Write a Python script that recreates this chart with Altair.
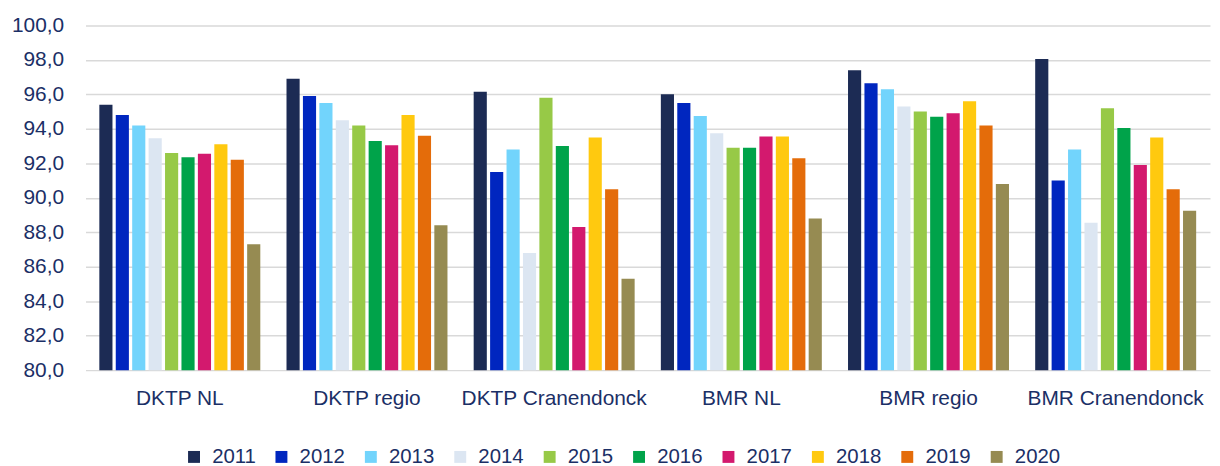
import altair as alt
import pandas as pd

categories = ["DKTP NL", "DKTP regio", "DKTP Cranendonck", "BMR NL", "BMR regio", "BMR Cranendonck"]
years = ["2011", "2012", "2013", "2014", "2015", "2016", "2017", "2018", "2019", "2020"]

v2011 = [95.4, 96.9, 96.15, 96.0, 97.4, 98.05]
v2012 = [94.8, 95.9, 91.5, 95.5, 96.65, 91.0]
v2013 = [94.2, 95.5, 92.8, 94.75, 96.3, 92.8]
v2014 = [93.45, 94.5, 86.8, 93.75, 95.3, 88.55]
v2015 = [92.6, 94.2, 95.8, 92.9, 95.0, 95.2]
v2016 = [92.35, 93.3, 93.0, 92.9, 94.7, 94.05]
v2017 = [92.55, 93.05, 88.3, 93.55, 94.9, 91.9]
v2018 = [93.1, 94.8, 93.5, 93.55, 95.6, 93.5]
v2019 = [92.2, 93.6, 90.5, 92.3, 94.2, 90.5]
v2020 = [87.3, 88.4, 85.3, 88.8, 90.8, 89.25]

colors = ["#1C2B54", "#0026BF", "#72D4FC", "#DCE6F2", "#97C947",
          "#00A34A", "#D3196E", "#FFC90F", "#E46C0A", "#968B52"]

series = [v2011, v2012, v2013, v2014, v2015, v2016, v2017, v2018, v2019, v2020]
rows = []
for y, vals in zip(years, series):
    for c, v in zip(categories, vals):
        rows.append({"cat": c, "year": y, "value": v})
df = pd.DataFrame(rows)

FONT = "Liberation Sans"
TXT = "#1B2F66"

chart = alt.Chart(df).mark_bar(clip=True).encode(
    x=alt.X("cat:N", sort=categories, title=None,
            scale=alt.Scale(paddingInner=0.14, paddingOuter=0.074),
            axis=alt.Axis(labelAngle=0, labelFontSize=21, labelFont=FONT, labelColor=TXT,
                          labelPadding=18, labelLimit=400, ticks=False, domain=False, grid=False)),
    xOffset=alt.XOffset("year:N", sort=years, scale=alt.Scale(paddingInner=0.2, paddingOuter=0)),
    y=alt.Y("value:Q", title=None,
            scale=alt.Scale(domain=[80, 100], nice=False, zero=False),
            axis=alt.Axis(values=list(range(80, 101, 2)),
                          labelExpr="replace(format(datum.value, '.1f'), '.', ',')",
                          labelFontSize=21, labelFont=FONT, labelColor=TXT, labelPadding=22,
                          ticks=False, domain=False, grid=True, gridColor="#D9D9D9", gridWidth=1.5)),
    color=alt.Color("year:N", sort=years, title=None,
                    scale=alt.Scale(domain=years, range=colors),
                    legend=alt.Legend(orient="none", direction="horizontal", columns=10,
                                      legendX=99, legendY=424,
                                      symbolType="square", symbolSize=144, symbolStrokeWidth=0,
                                      labelFont=FONT, labelFontSize=20.5, labelColor=TXT,
                                      labelOffset=8, columnPadding=15)),
).properties(
    width=1132, height=347,
    autosize=alt.AutoSizeParams(type="none"),
    padding={"left": 78, "top": 16, "right": 2, "bottom": 98},
).configure_view(stroke=None)

chart.save("out.html", embed_options={"renderer": "svg", "actions": False})
